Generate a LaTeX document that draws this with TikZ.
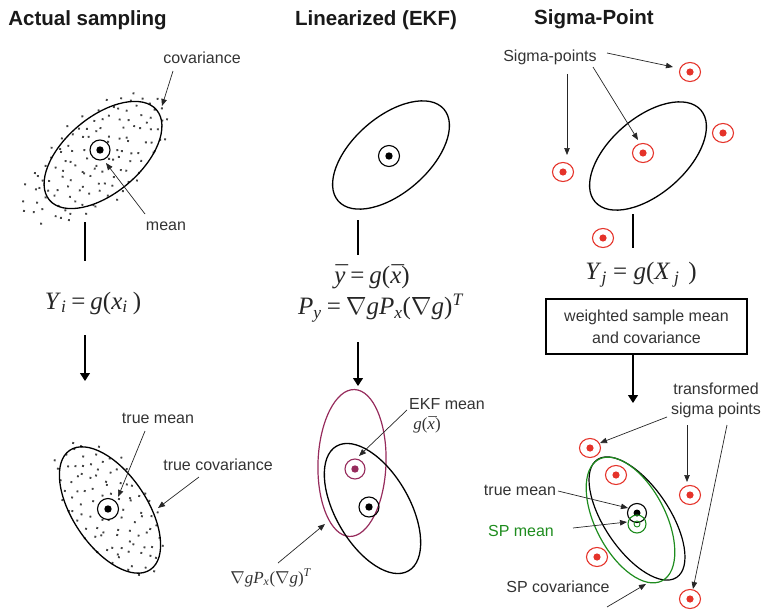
\documentclass[tikz,border=0pt]{standalone}
\usepackage{fontspec}
\setmainfont{Liberation Sans}
\newfontfamily\serifm{Liberation Serif}
\usetikzlibrary{arrows.meta,shapes.geometric}
\definecolor{lbl}{HTML}{333333}
\definecolor{dotc}{HTML}{444444}
\definecolor{sigred}{HTML}{E5332A}
\definecolor{spgreen}{HTML}{1E8C1E}
\definecolor{ekfmag}{HTML}{962B5C}
\newcommand{\fml}{\serifm\fontsize{25}{30}\selectfont}
\newcommand{\fmls}{\serifm\fontsize{17}{20}\selectfont}
\newcommand{\iv}[1]{\textit{#1}}
\newcommand{\bv}[1]{\textit{\accent"AF #1}}
\newcommand{\eqsp}{\hspace{0.2em}=\hspace{0.2em}}
\begin{document}
\begin{tikzpicture}[x=1pt,y=-1pt,
  title/.style={font=\fontsize{20.5}{24}\selectfont\bfseries, text=black!90, inner sep=0pt},
  lab/.style={font=\fontsize{16}{19}\selectfont, text=lbl, inner sep=2pt},
  fm/.style={font=\fml, text=black!85, inner sep=0pt},
  fms/.style={font=\fmls, text=lbl, inner sep=0pt},
  ell/.style={line width=1.3pt},
  arr/.style={-{Triangle[length=7pt,width=5.5pt]}, line width=0.7pt, draw=black!85},
  bigarr/.style={-{Triangle[length=8pt,width=10pt]}, line width=1.1pt},
  conn/.style={line width=1.2pt},
  meanpt/.style={circle, draw, line width=1.1pt, fill=white, minimum size=20pt, inner sep=0pt,
    path picture={\fill[black] (path picture bounding box.center) circle (3.7pt);}},
  magpt/.style={circle, draw=ekfmag, line width=1.1pt, minimum size=20pt, inner sep=0pt,
    path picture={\fill[ekfmag] (path picture bounding box.center) circle (3.7pt);}},
  truept/.style={circle, draw, line width=1.1pt, minimum size=19pt, inner sep=0pt,
    path picture={\fill[black] (path picture bounding box.center) circle (3.5pt);}},
  sppt/.style={circle, draw=spgreen, line width=1.1pt, minimum size=18pt, inner sep=0pt,
    path picture={\draw[spgreen, line width=0.9pt] (path picture bounding box.center) circle (3pt);}},
  sigpt/.style={ellipse, draw=sigred, line width=1.1pt, minimum width=21pt, minimum height=19pt, inner sep=0pt,
    path picture={\fill[sigred] (path picture bounding box.center) circle (3.6pt);}}
]
\useasboundingbox (0,0) rectangle (764,610);

% ---------------- titles
\node[title] (tA) at (87.5,20) {Actual sampling};
\node[title] (tB) at (376,20) {Linearized (EKF)};
\node[title] (tC) at (594,19) {Sigma-Point};

% ---------------- left column, top (sample cloud)
\pgfmathsetseed{4711}
\begin{scope}[shift={(97,158)}, rotate=40]
  \foreach \k in {0,...,129}{
    \pgfmathsetmacro\rr{sqrt((\k+0.5)/130)}
    \pgfmathsetmacro\ph{360*(\k*0.381966-floor(\k*0.381966))}
    \fill[dotc] ({\rr*90*cos(\ph)+7*(rnd-0.5)},{\rr*44*sin(\ph)+7*(rnd-0.5)}) circle (1.35pt);
  }
\end{scope}
\draw[ell, rotate around={40:(103,155)}] (103,155) ellipse [x radius=70pt, y radius=38pt];
\node[meanpt] (m1) at (100,150) {};
\node[lab] (cov1) at (202,58) {covariance};
\node[lab] (mean1) at (166,226) {mean};
\coordinate (tc1) at (162,106);
\coordinate (tm1) at (106,163);
\draw[arr] ([xshift=-29pt,yshift=-13pt]cov1.center) -- (tc1);
\draw[arr] ([xshift=-21pt,yshift=12pt]mean1.center) -- (tm1);

\coordinate (l1a) at (85,222);
\coordinate (l1b) at (85,261);
\draw[conn] (l1a) -- (l1b);
\node[fm] (f1) at (93,303) {\iv{Y}\textsubscript{\iv{i}}\eqsp\iv{g}(\iv{x}\textsubscript{\iv{i}}\hspace{0.2em})};
\coordinate (a1s) at (85,335);
\coordinate (a1e) at (85,381);
\draw[bigarr] (a1s) -- (a1e);

% ---------------- left column, bottom (transformed cloud)
\begin{scope}[shift={(110,508)}, rotate=-56]
  \foreach \k in {0,...,99}{
    \pgfmathsetmacro\rr{sqrt((\k+0.5)/100)}
    \pgfmathsetmacro\ph{360*(\k*0.381966-floor(\k*0.381966))}
    \fill[dotc] ({\rr*78*cos(\ph)+7*(rnd-0.5)},{\rr*40*sin(\ph)+7*(rnd-0.5)}) circle (1.35pt);
  }
\end{scope}
\draw[ell, rotate around={-56:(110,510)}] (110,510) ellipse [x radius=72pt, y radius=37pt];
\node[meanpt, minimum size=21pt] (m2) at (108,509) {};
\node[lab] (tmean1) at (158,418) {true mean};
\node[lab] (tcov1) at (218,465) {true covariance};
\coordinate (ttm1) at (118,497);
\coordinate (ttc1) at (158,508);
\draw[arr] ([xshift=-13pt,yshift=-13pt]tmean1.center) -- (ttm1);
\draw[arr] ([xshift=-19pt,yshift=-12pt]tcov1.center) -- (ttc1);

% ---------------- middle column, top
\draw[ell, rotate around={41:(391,155)}] (391,155) ellipse [x radius=70pt, y radius=38pt];
\node[meanpt, minimum size=21pt] (m3) at (389,156) {};
\coordinate (l2a) at (358,220);
\coordinate (l2b) at (358,255);
\draw[conn] (l2a) -- (l2b);
\node[fm] (f2a) at (372,277) {\bv{y}\eqsp\iv{g}(\bv{x})};
\node[fm] (f2b) at (381,308) {\iv{P}\textsubscript{\iv{y}}\eqsp$\nabla$\iv{gP}\textsubscript{\iv{x}}($\nabla$\iv{g})\textsuperscript{\iv{T}}};
\coordinate (a2s) at (358,342);
\coordinate (a2e) at (358,386);
\draw[bigarr] (a2s) -- (a2e);

% ---------------- middle column, bottom
\draw[ell, draw=ekfmag, line width=1.2pt, rotate around={88:(352,463)}] (352,463) ellipse [x radius=73.5pt, y radius=34pt];
\draw[ell, rotate around={-60:(372.5,508.5)}] (372.5,508.5) ellipse [x radius=72pt, y radius=37pt];
\node[magpt] (m4) at (355,469) {};
\node[meanpt, fill=none] (m5) at (369,507) {};
\node[lab] (ekf) at (447,404) {EKF mean};
\node[fms] (gx) at (427,425) {\iv{g}(\bv{x})};
\coordinate (tekf) at (359,456);
\draw[arr] ([xshift=-40pt,yshift=-6pt]ekf.center) -- (tekf);
\node[fms] (nab) at (271,578) {$\nabla$\iv{gP}\textsubscript{\iv{x}}($\nabla$\iv{g})\textsuperscript{\iv{T}}};
\coordinate (tnab) at (325,524);
\draw[arr] ([xshift=7pt,yshift=15pt]nab.center) -- (tnab);

% ---------------- right column, top
\node[lab] (sp) at (550,57) {Sigma-points};
\node[sigpt] (s1) at (690,72) {};
\node[sigpt] (s2) at (723,133) {};
\node[sigpt] (s3) at (643,153) {};
\node[sigpt] (s4) at (563,172) {};
\node[sigpt] (s5) at (603,238) {};
\draw[ell, rotate around={41:(648,156)}] (648,156) ellipse [x radius=70pt, y radius=38pt];
\coordinate (ts1) at (673,67);
\coordinate (ts3) at (638,140);
\coordinate (ts4) at (567,155);
\draw[arr] ([xshift=57pt,yshift=4pt]sp.center) -- (ts1);
\draw[arr] ([xshift=43pt,yshift=-10pt]sp.center) -- (ts3);
\draw[arr] ([xshift=17pt,yshift=-17pt]sp.center) -- (ts4);
\coordinate (l3a) at (633,214);
\coordinate (l3b) at (633,248);
\draw[conn] (l3a) -- (l3b);
\node[fm] (f3) at (641,275) {\iv{Y}\textsubscript{\iv{j}}\hspace{0.25em}=\hspace{0.25em}\iv{g}(\iv{X}\hspace{0.15em}\textsubscript{\iv{j}}\hspace{0.35em})};
\node[lab, draw=black, text=lbl, line width=1.2pt, minimum width=201pt, minimum height=55pt,
      align=center, font=\fontsize{16}{22}\selectfont] (wbox) at (646.5,326.5)
      {weighted sample mean\\and covariance};
\coordinate (a3e) at (633,403);
\draw[bigarr] (wbox.south -| a3e) -- (a3e);

% ---------------- right column, bottom
\node[lab, align=center, font=\fontsize{16}{20}\selectfont] (trans) at (716,400) {transformed\\sigma points};
\draw[ell, line width=1.2pt, rotate around={-56:(637,518.5)}] (637,518.5) ellipse [x radius=71pt, y radius=32.5pt];
\draw[ell, draw=spgreen, line width=1.2pt, rotate around={-62.5:(630.5,520)}] (630.5,520) ellipse [x radius=68.5pt, y radius=35pt];
\node[sigpt] (u1) at (590,448) {};
\node[sigpt] (u2) at (616,475) {};
\node[sigpt] (u3) at (690,495) {};
\node[sigpt] (u4) at (597,557) {};
\node[sigpt] (u5) at (690,599) {};
\node[truept] (tmc) at (637,513) {};
\node[sppt] (spc) at (637,524) {};
\coordinate (tu1) at (600,443);
\coordinate (tu3) at (687,482);
\coordinate (tu5) at (693,589);
\draw[arr] ([xshift=-49pt,yshift=-17pt]trans.center) -- (tu1);
\draw[arr] ([xshift=-29pt,yshift=-25pt]trans.center) -- (tu3);
\draw[arr] ([xshift=11pt,yshift=-25pt]trans.center) -- (tu5);
\node[lab] (tm2) at (520,490) {true mean};
\node[lab, text=spgreen] (spm) at (521,531) {SP mean};
\node[lab] (spcov) at (558,587) {SP covariance};
\coordinate (ttm2) at (628,508);
\coordinate (tspm) at (627,522);
\coordinate (tspc) at (646,584);
\draw[arr] ([xshift=38pt,yshift=-1pt]tm2.center) -- (ttm2);
\draw[arr] ([xshift=52pt,yshift=3pt]spm.center) -- (tspm);
\draw[arr] ([xshift=49pt,yshift=-20pt]spcov.center) -- (tspc);
\end{tikzpicture}
\end{document}
